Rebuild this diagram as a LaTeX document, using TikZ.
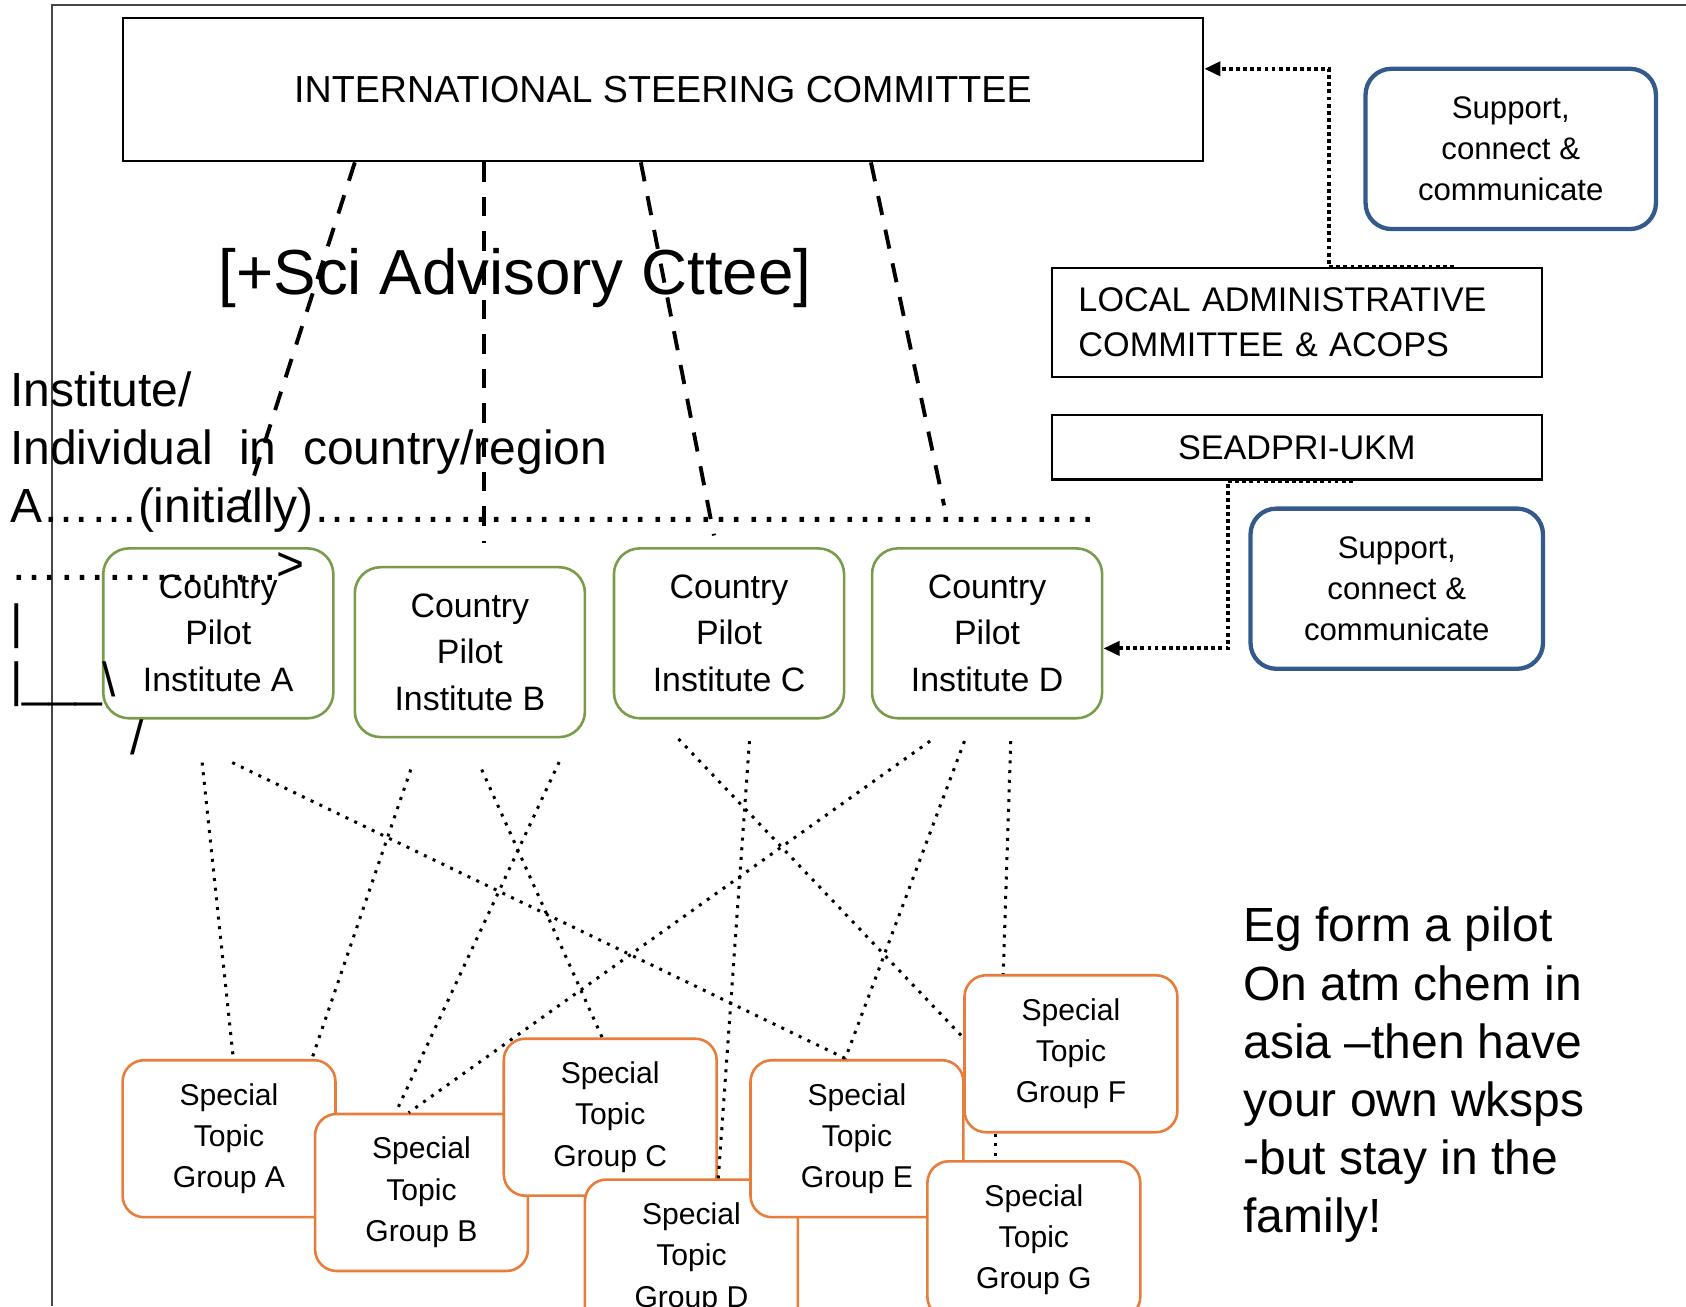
\documentclass[tikz,border=0pt]{standalone}
\usepackage{fontspec}
\setmainfont{Liberation Sans}
\usetikzlibrary{arrows.meta}
\definecolor{cgreen}{RGB}{122,155,74}
\definecolor{corange}{RGB}{232,124,58}
\definecolor{cblue}{RGB}{52,90,140}
\definecolor{cframe}{RGB}{70,70,70}
\newcommand\fsz[2]{\fontsize{#1}{#2}\selectfont}
\newcommand\ellrep[1]{\foreach\ii in {1,...,#1}{…}}
\begin{document}
\begin{tikzpicture}[x=0.5pt,y=-0.5pt,
  iscbox/.style={draw,line width=1pt,minimum width=502.5pt,minimum height=66.5pt,inner sep=0pt,font=\fsz{17.5pt}{21pt}},
  admbox/.style={draw,line width=1pt,minimum width=228pt,inner sep=0pt},
  ctybox/.style={draw=cgreen,line width=1.2pt,rounded corners=12pt,minimum width=107pt,minimum height=79pt,inner sep=0pt,align=center,font=\fsz{15.75pt}{21.5pt}},
  stgbox/.style={draw=corange,fill=white,line width=1.2pt,rounded corners=10pt,minimum width=99pt,minimum height=73pt,inner sep=0pt,align=center,font=\fsz{14pt}{19.25pt}},
  supbox/.style={draw=cblue,line width=2pt,rounded corners=12pt,minimum width=135pt,minimum height=74.5pt,inner sep=0pt,align=center,font=\fsz{14.5pt}{19pt}},
  txtline/.style={inner sep=0pt,anchor=base west,font=\fsz{22.3pt}{27pt}},
  dashln/.style={line width=1.8pt,dash pattern=on 9pt off 7pt},
  dotln/.style={line width=1.4pt,dash pattern=on 1.4pt off 3.1pt},
  thickdot/.style={line width=1.8pt,dash pattern=on 1.8pt off 1.5pt},
  tipx/.style={-{Triangle[length=7.5pt,width=6.5pt]}}
]
\useasboundingbox (0,0) rectangle (1568,1215);
% outer frame
\draw[cframe,line width=1pt] (48,1215) -- (48,5) -- (1568,5);

% top boxes
\node[iscbox] (isc) at (616.5,83.5) {INTERNATIONAL STEERING COMMITTEE};
\node[admbox,minimum height=51pt,text width=203pt,inner xsep=12.5pt,align=left,font=\fsz{15.9pt}{21pt}] (local) at (1206,300) {LOCAL ADMINISTRATIVE\\COMMITTEE \& ACOPS};
\node[admbox,minimum height=30pt,font=\fsz{15.9pt}{19pt}] (seadpri) at (1206,416) {SEADPRI-UKM};
\node[supbox] (sup1) at (1405,138.5) {Support,\\connect \&\\communicate};
\node[supbox,minimum width=136pt] (sup2) at (1299,547.5) {Support,\\connect \&\\communicate};

% country pilot institutes
\node[ctybox] (ctyA) at (203,589) {Country\\Pilot\\Institute A};
\node[ctybox] (ctyB) at (437,606.5) {Country\\Pilot\\Institute B};
\node[ctybox] (ctyC) at (678,589) {Country\\Pilot\\Institute C};
\node[ctybox] (ctyD) at (918,589) {Country\\Pilot\\Institute D};

% special topic groups
\node[stgbox] (stgA) at (213,1059) {Special\\Topic\\Group A};
\node[stgbox] (stgB) at (392,1109) {Special\\Topic\\Group B};
\node[stgbox] (stgC) at (567.5,1039) {Special\\Topic\\Group C};
\node[stgbox] (stgD) at (643,1170) {Special\\Topic\\Group D};
\node[stgbox] (stgE) at (797,1059) {Special\\Topic\\Group E};
\node[stgbox] (stgF) at (996,980) {Special\\Topic\\Group F};
\node[stgbox] (stgG) at (961.5,1153) {Special\\Topic\\Group G};

% dashed lines from the steering committee
\coordinate (d1) at (228,468);
\coordinate (d2) at (450,505);
\coordinate (d3) at (664,498);
\coordinate (d4) at (878,470);
\draw[dashln] (isc.south -| 330,0) -- (d1);
\draw[dashln] (isc.south -| 450,0) -- (d2);
\draw[dashln] (isc.south -| 596,0) -- (d3);
\draw[dashln] (isc.south -| 810,0) -- (d4);

% dotted links institutes -> groups
\draw[dotln] ([shift={(-15,40)}]ctyA.south) -- ([shift={(4,0)}]stgA.north);
\draw[dotln] ([shift={(13,40)}]ctyA.south) -- ([shift={(-10,0)}]stgE.north);
\draw[dotln] ([shift={(-55,29)}]ctyB.south) -- ([shift={(77,0)}]stgA.north);
\draw[dotln] ([shift={(11,29)}]ctyB.south) -- ([shift={(-7.5,0)}]stgC.north);
\draw[dotln] ([shift={(83,22)}]ctyB.south) -- ([shift={(-24,0)}]stgB.north);
\draw[dotln] ([shift={(-47,18)}]ctyC.south) -- ([shift={(0,-15)}]stgF.west);
\draw[dotln] ([shift={(19,20)}]ctyC.south) -- ([shift={(25,0)}]stgD.north);
\draw[dotln] ([shift={(-53,20)}]ctyD.south) -- ([shift={(-12,0)}]stgB.north);
\draw[dotln] ([shift={(-21,20)}]ctyD.south) -- ([shift={(-11,0)}]stgE.north);
\draw[dotln] ([shift={(22,20)}]ctyD.south) -- ([shift={(-63,0)}]stgF.north);
\draw[dotln] ([shift={(-70,0)}]stgF.south) -- ([shift={(-35.5,0)}]stgG.north);

% admin connectors
\draw[thickdot,tipx] (local.north -| 1352,0) -- (local.north -| 1236,0) -- (1236,64) -- (isc.east |- 0,64);
\draw[thickdot,tipx] (seadpri.south -| 1258,0) -- (seadpri.south -| 1142,0) -- (1142,603) -- (ctyD.east |- 0,603);

% free texts
\node[inner sep=0pt,anchor=base west,font=\fsz{29.6pt}{35pt}] (sci) at (203,274) {[+Sci Advisory Cttee]};
\node[txtline] (l1) at (9,378) {Institute/};
\node[txtline] (l2) at (9,432) {Individual~~in~~country/region};
\node[txtline] (l3) at (9,486) {A\ellrep{2}(initially)\ellrep{16}.};
\node[txtline] (l4) at (9,540) {\ellrep{5}..>};
\node[txtline] (l5) at (9,594) {|};
\node[txtline] (l6) at (9,648) {|\_\_\_\textbackslash};
\node[txtline] (l7) at (121,702) {/};

\node[txtline] (r1) at (1156,876) {Eg form a pilot};
\node[txtline] (r2) at (1156,930) {On atm chem in};
\node[txtline] (r3) at (1156,984) {asia –then have};
\node[txtline] (r4) at (1156,1038) {your own wksps};
\node[txtline] (r5) at (1156,1092) {-but stay in the};
\node[txtline] (r6) at (1156,1146) {family!};
\end{tikzpicture}
\end{document}
